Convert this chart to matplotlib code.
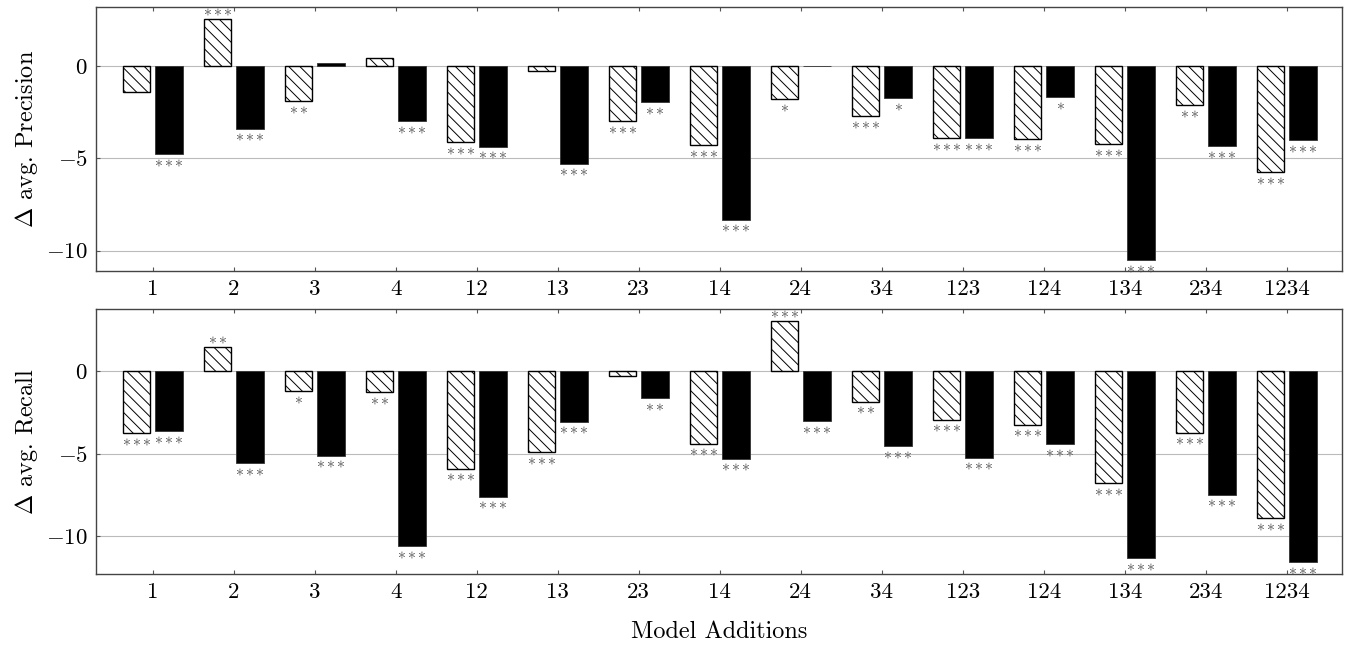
import numpy as np
import matplotlib
matplotlib.use("Agg")
import matplotlib.pyplot as plt

plt.rcParams['font.family'] = 'serif'
plt.rcParams['font.serif'] = ['cmr10']
plt.rcParams['mathtext.fontset'] = 'cm'
plt.rcParams['axes.formatter.use_mathtext'] = True
plt.rcParams['hatch.linewidth'] = 0.7

categories = ['1', '2', '3', '4', '12', '13', '23', '14', '24', '34',
              '123', '124', '134', '234', '1234']

prec_hatch = [-1.44, 2.53, -1.93, 0.40, -4.15, -0.29, -3.01, -4.28, -1.80, -2.72,
              -3.93, -3.97, -4.24, -2.13, -5.76]
prec_solid = [-4.78, -3.41, 0.15, -2.99, -4.38, -5.29, -1.97, -8.32, -0.03, -1.75,
              -3.92, -1.71, -10.52, -4.35, -4.03]
prec_hatch_sig = ['', '***', '**', '', '***', '', '***', '***', '*', '***',
                  '***', '***', '***', '**', '***']
prec_solid_sig = ['***', '***', '', '***', '***', '***', '**', '***', '', '*',
                  '***', '*', '***', '***', '***']

rec_hatch = [-3.77, 1.47, -1.21, -1.29, -5.91, -4.90, -0.30, -4.40, 3.04, -1.85,
             -2.94, -3.25, -6.80, -3.73, -8.91]
rec_solid = [-3.63, -5.59, -5.12, -10.61, -7.60, -3.07, -1.65, -5.30, -3.02, -4.54,
             -5.24, -4.42, -11.31, -7.48, -11.55]
rec_hatch_sig = ['***', '**', '*', '**', '***', '***', '', '***', '***', '**',
                 '***', '***', '***', '***', '***']
rec_solid_sig = ['***', '***', '***', '***', '***', '***', '**', '***', '***', '***',
                 '***', '***', '***', '***', '***']

x = np.arange(len(categories))
w = 0.34
off = 0.2

fig = plt.figure(figsize=(13.54, 6.46), dpi=100)
ax1 = fig.add_axes([0.0709, 0.5805, 0.9202, 0.4087])
ax2 = fig.add_axes([0.0709, 0.1119, 0.9202, 0.4098])


def stars(ax, xs, vals, sigs):
    for xi, v, s in zip(xs, vals, sigs):
        if not s:
            continue
        label = '$' + r'\,'.join([r'{\ast}'] * len(s)) + '$'
        if v >= 0:
            ax.annotate(label, (xi, v), xytext=(0, 0), textcoords='offset points',
                        ha='center', va='bottom', fontsize=11.5, color='#505050')
        else:
            ax.annotate(label, (xi, v), xytext=(0, -1), textcoords='offset points',
                        ha='center', va='top', fontsize=11.5, color='#505050')


def panel(ax, hatch_vals, solid_vals, hsig, ssig, ylabel, ylim):
    ax.set_axisbelow(True)
    ax.yaxis.grid(True, color='#bbbbbb', linewidth=0.8)
    ax.bar(x - off, hatch_vals, w, color='white', edgecolor='black',
           hatch='\\\\\\', linewidth=1.0)
    ax.bar(x + off, solid_vals, w, color='black', edgecolor='#333333', linewidth=0.6)
    stars(ax, x - off, hatch_vals, hsig)
    stars(ax, x + off, solid_vals, ssig)
    ax.set_xlim(-0.7, 14.68)
    ax.set_ylim(*ylim)
    ax.set_yticks([0, -5, -10])
    ax.set_xticks(x)
    ax.set_xticklabels(categories)
    ax.tick_params(axis='both', direction='in', length=3, color='#555555',
                   labelsize=16.5, top=True, pad=6)
    ax.set_ylabel(ylabel, fontsize=17.5, labelpad=4)
    for sp in ax.spines.values():
        sp.set_color('#444444')
        sp.set_linewidth(1.0)


panel(ax1, prec_hatch, prec_solid, prec_hatch_sig, prec_solid_sig,
      r'$\Delta$ avg. Precision', (-11.1, 3.18))
panel(ax2, rec_hatch, rec_solid, rec_hatch_sig, rec_solid_sig,
      r'$\Delta$ avg. Recall', (-12.26, 3.75))
ax2.set_xlabel('Model Additions', fontsize=17.5, labelpad=14)

fig.savefig('out.png', dpi=100)
